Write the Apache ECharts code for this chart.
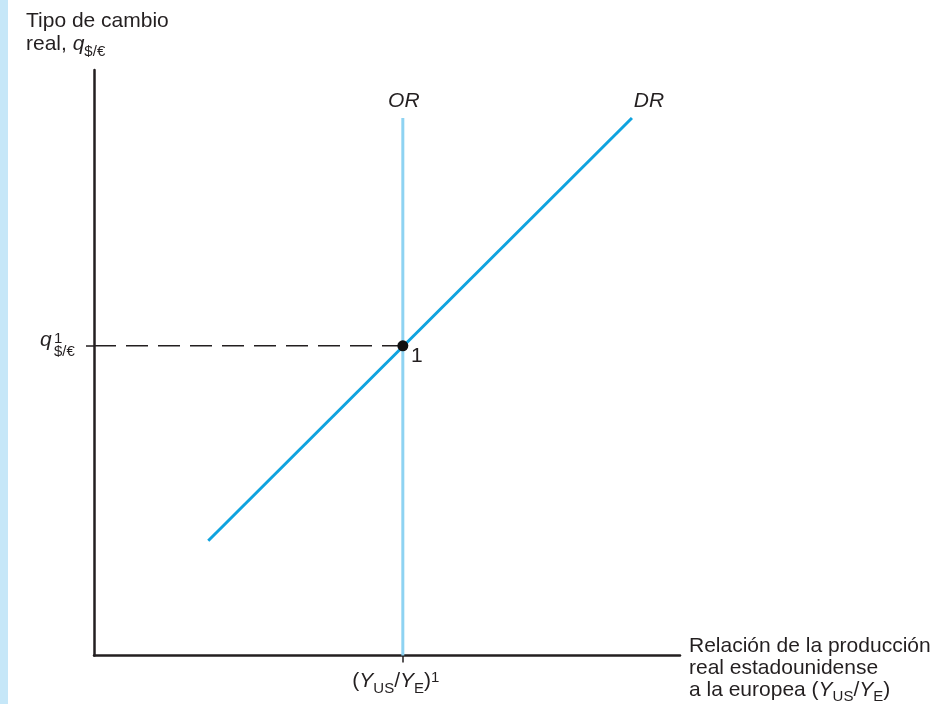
<!DOCTYPE html>
<html>
<head>
<meta charset="utf-8" />
<title>OR DR</title>
<script src="https://cdn.jsdelivr.net/npm/echarts@6/dist/echarts.min.js"></script>
<style>
html, body { margin: 0; padding: 0; background: #ffffff; }
#strip { position: absolute; left: 0; top: 0; width: 8px; height: 704px; background: #c6e7f8; }
#chart { width: 947px; height: 704px; }
</style>
</head>
<body>
<div id="strip"></div>
<div id="chart"></div>
<script type="text/javascript">
// datos del grafico (unidades del eje 0..100)
var axisRange = [0, 100];
var orLine = [[52.7, 0], [52.7, 91.8]];        // curva OR (vertical)
var drLine = [[19.5, 19.6], [91.8, 91.8]];     // curva DR
var equilibrio = [52.7, 52.9];                 // punto 1
var curveLabels = [
	{ name: 'OR', value: [52.7, 91.8] },
	{ name: 'DR', value: [91.8, 91.8] }
];

var FONT = 'Liberation Sans, Arial, Helvetica, sans-serif';
var INK = '#231f20';

// subindice: se baja con padding superior y alineado arriba
function subStyle(pad, key) {
	var s = { fontSize: 15, fontFamily: FONT, lineHeight: 10, verticalAlign: 'top', padding: [pad, 0, 0, 0] };
	s[key] = INK;
	return s;
}

var myChart = echarts.init(document.getElementById('chart'));
myChart.setOption({
	animation: false,
	grid: { left: 94, right: 267, top: 70, bottom: 48.5 },
	xAxis: {
		type: 'value', min: axisRange[0], max: axisRange[1],
		axisLine: { lineStyle: { color: INK, width: 2.5 } },
		splitLine: { show: false },
		axisTick: { show: true, customValues: [equilibrio[0]], length: 7, lineStyle: { color: INK, width: 1.5 } },
		axisLabel: {
			show: true, customValues: [equilibrio[0]], margin: 15,
			fontSize: 21, fontFamily: FONT, color: INK, lineHeight: 22,
			padding: [0, 14, 0, 0],
			formatter: function () { return '({i|Y}{sub|US}/{i|Y}{sub|E}){sup|1}'; },
			rich: {
				i: { fontStyle: 'italic', fontSize: 21, fontFamily: FONT, color: INK, lineHeight: 22 },
				sub: subStyle(11, 'color'),
				sup: { fontSize: 15, fontFamily: FONT, color: INK, lineHeight: 12, verticalAlign: 'top' }
			}
		}
	},
	yAxis: {
		type: 'value', min: axisRange[0], max: axisRange[1],
		axisLine: { lineStyle: { color: INK, width: 2.5 } },
		splitLine: { show: false },
		axisTick: { show: true, customValues: [equilibrio[1]], length: 8, lineStyle: { color: INK, width: 1.5 } },
		axisLabel: { show: false }
	},
	series: [
		{
			type: 'line', data: orLine, symbol: 'none', z: 2,
			lineStyle: { color: '#8ed3f2', width: 3 }
		},
		{
			type: 'line', data: drLine, symbol: 'none', z: 3,
			lineStyle: { color: '#0fa3df', width: 3 }
		},
		{
			type: 'line', data: [[axisRange[0], equilibrio[1]], equilibrio], symbol: 'none', z: 4,
			lineStyle: { color: INK, width: 1.3, type: [22, 10] }
		},
		{
			type: 'scatter', data: [equilibrio], symbol: 'circle', symbolSize: 11, z: 5,
			itemStyle: { color: '#111111', opacity: 1 },
			label: {
				show: true, position: 'inside', offset: [14, 10], opacity: 1,
				formatter: '1', fontSize: 21, fontFamily: FONT, color: INK, textBorderWidth: 0
			}
		},
		{
			type: 'scatter', data: curveLabels, symbolSize: 1, z: 5,
			itemStyle: { color: 'rgba(0,0,0,0)', opacity: 1 },
			label: {
				show: true, position: 'inside', textBorderWidth: 0, opacity: 1,
				fontSize: 21, fontStyle: 'italic', fontFamily: FONT, color: INK,
				formatter: function (p) { return p.name; }
			},
			labelLayout: function (p) {
				return p.dataIndex === 0 ? { dx: 1, dy: -17 } : { dx: 17, dy: -17 };
			}
		}
	],
	graphic: [
		{
			type: 'text', left: 26, top: 10,
			style: {
				text: 'Tipo de cambio\nreal, {i|q}{sub|$/€}',
				font: '21px ' + FONT, fill: INK, lineHeight: 23,
				rich: {
					i: { fontStyle: 'italic', fontSize: 21, fontFamily: FONT, lineHeight: 23, fill: INK },
					sub: subStyle(11, 'fill')
				}
			}
		},
		{
			type: 'text', left: 40, top: 330,
			style: { text: 'q', font: 'italic 21px ' + FONT, fill: INK }
		},
		{
			type: 'text', left: 54, top: 331,
			style: { text: '1', font: '15px ' + FONT, fill: INK }
		},
		{
			type: 'text', left: 54, top: 344,
			style: { text: '$/€', font: '15px ' + FONT, fill: INK }
		},
		{
			type: 'text', left: 689, top: 635,
			style: {
				text: 'Relación de la producción\nreal estadounidense\na la europea ({i|Y}{sub|US}/{i|Y}{sub|E})',
				font: '21px ' + FONT, fill: INK, lineHeight: 22,
				rich: {
					i: { fontStyle: 'italic', fontSize: 21, fontFamily: FONT, lineHeight: 22, fill: INK },
					sub: subStyle(10, 'fill')
				}
			}
		}
	]
});
</script>
</body>
</html>
